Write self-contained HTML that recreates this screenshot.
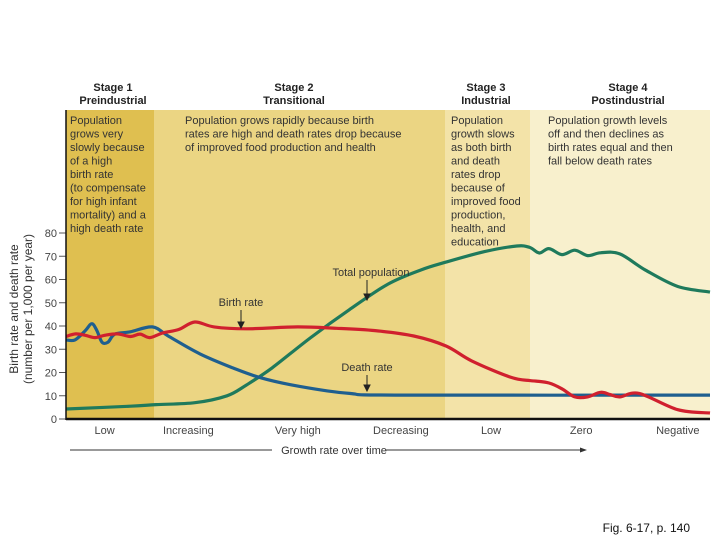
<!DOCTYPE html>
<html><head><meta charset="utf-8"><style>
body{margin:0;background:#fff;}
svg{display:block;font-family:"Liberation Sans",sans-serif;}
</style></head><body>
<svg id="chart" width="720" height="540" viewBox="0 0 720 540">
<rect x="66" y="110" width="88" height="309" fill="#dfbf50"/>
<rect x="154" y="110" width="291" height="309" fill="#ebd583"/>
<rect x="445" y="110" width="85" height="309" fill="#f3e3a8"/>
<rect x="530" y="110" width="180" height="309" fill="#f8f0cd"/>
<g font-weight="bold" font-size="11" fill="#222" text-anchor="middle">
<text x="113" y="91">Stage 1</text><text x="113" y="104">Preindustrial</text>
<text x="294" y="91">Stage 2</text><text x="294" y="104">Transitional</text>
<text x="486" y="91">Stage 3</text><text x="486" y="104">Industrial</text>
<text x="628" y="91">Stage 4</text><text x="628" y="104">Postindustrial</text>
</g>
<g font-size="11" fill="#333">
<text><tspan x="70" y="124">Population</tspan><tspan x="70" y="137.5">grows very</tspan><tspan x="70" y="151">slowly because</tspan><tspan x="70" y="164.5">of a high</tspan><tspan x="70" y="178">birth rate</tspan><tspan x="70" y="191.5">(to compensate</tspan><tspan x="70" y="205">for high infant</tspan><tspan x="70" y="218.5">mortality) and a</tspan><tspan x="70" y="232">high death rate</tspan></text>
<text><tspan x="185" y="124">Population grows rapidly because birth</tspan><tspan x="185" y="137.5">rates are high and death rates drop because</tspan><tspan x="185" y="151">of improved food production and health</tspan></text>
<text><tspan x="451" y="124">Population</tspan><tspan x="451" y="137.5">growth slows</tspan><tspan x="451" y="151">as both birth</tspan><tspan x="451" y="164.5">and death</tspan><tspan x="451" y="178">rates drop</tspan><tspan x="451" y="191.5">because of</tspan><tspan x="451" y="205">improved food</tspan><tspan x="451" y="218.5">production,</tspan><tspan x="451" y="232">health, and</tspan><tspan x="451" y="245.5">education</tspan></text>
<text><tspan x="548" y="124">Population growth levels</tspan><tspan x="548" y="137.5">off and then declines as</tspan><tspan x="548" y="151">birth rates equal and then</tspan><tspan x="548" y="164.5">fall below death rates</tspan></text>
</g>
<g id="ticks" font-size="11" fill="#444"></g>
<text transform="translate(18,309) rotate(-90)" font-size="12" fill="#333" text-anchor="middle">Birth rate and death rate</text>
<text transform="translate(32,309) rotate(-90)" font-size="12" fill="#333" text-anchor="middle">(number per 1,000 per year)</text>
<g id="series"></g>
<line x1="66" y1="110" x2="66" y2="420" stroke="#111" stroke-width="1.5"/>
<line x1="66" y1="419" x2="710" y2="419" stroke="#111" stroke-width="2.5"/>
<g font-size="11" fill="#333" text-anchor="middle">
<text x="241" y="306">Birth rate</text>
<text x="371" y="276">Total population</text>
<text x="367" y="371">Death rate</text>
</g>
<g stroke="#222" stroke-width="1" fill="#222">
<line x1="241" y1="310" x2="241" y2="325"/><path d="M238,322 L241,328 L244,322Z"/>
<line x1="367" y1="280" x2="367" y2="297"/><path d="M364,294 L367,300 L370,294Z"/>
<line x1="367" y1="375" x2="367" y2="388"/><path d="M364,385 L367,391 L370,385Z"/>
</g>
<g font-size="11" fill="#444" text-anchor="middle" id="xlabels"></g>
<line x1="70" y1="450" x2="272" y2="450" stroke="#333" stroke-width="1"/>
<text x="334" y="454" font-size="11" fill="#333" text-anchor="middle">Growth rate over time</text>
<line x1="386" y1="450" x2="582" y2="450" stroke="#333" stroke-width="1"/>
<path d="M580,447.5 L587,450 L580,452.5Z" fill="#333"/>
<text x="690" y="532" font-size="12" fill="#111" text-anchor="end">Fig. 6-17, p. 140</text>
</svg>
<script>
const yTicks = [0,10,20,30,40,50,60,70,80];
const xCategories = ["Low","Increasing","Very high","Decreasing","Low","Zero","Negative"];
const xCategoryPos = [6,19,36,52,66,80,95];
// t: 0..100 across plot width; value in rate units
const birthT = [0,1.5,3,4.5,6,8,10,11.5,13,15,17.5,20,23,28,36,42,48,54,59,63,69,72,73,75,77,79,81,83,84.5,86,89,95,100];
const birthV = [35.5,36.6,36,35,36,36.6,35.5,36.5,35,37,38.5,41.7,39.6,38.8,39.6,39,38,35.7,31.4,25,18,16.5,16.3,15.5,13,9.5,9.5,11.5,10.5,9.5,11,4,2.6];
const deathT = [0,1.4,3,4,4.8,5.6,6.5,7.6,10,13.4,16,20.8,25.9,30.4,36.3,44,52,100];
const deathV = [34,34,38,41,38,33,33,36.5,37.5,39.6,35.5,28,22,17.6,14,11,10.3,10.3];
const popT = [0,10,14,20,25,28,32,38,44,50,55,59,65,70,72,73.5,75,77,79,81,83,86,90,95,100];
const popV = [4.3,5.5,6.2,7,10,14.6,22,35,47,58,64,67.5,72,74.4,73.8,71.4,73.3,70.7,72.6,70.3,71.5,71,64,57,54.6];
const x0=66,x1=710,yBase=419,yPer=2.325;
function xs(t){return x0+(x1-x0)*t/100;}
function ys(v){return yBase-v*yPer;}
const NS="http://www.w3.org/2000/svg";
const tg=document.getElementById('ticks');
yTicks.forEach(v=>{
  const l=document.createElementNS(NS,'line');
  l.setAttribute('x1',59);l.setAttribute('x2',66);l.setAttribute('y1',ys(v));l.setAttribute('y2',ys(v));
  l.setAttribute('stroke','#555');
  
  
  tg.appendChild(l);
  const t=document.createElementNS(NS,'text');
  t.setAttribute('x',57);t.setAttribute('y',ys(v)+4);t.setAttribute('text-anchor','end');
  t.textContent=v;
  
  
  tg.appendChild(t);
});
const xg=document.getElementById('xlabels');
xCategories.forEach((c,i)=>{
  const t=document.createElementNS(NS,'text');
  t.setAttribute('x',xs(xCategoryPos[i]));t.setAttribute('y',434);
  t.textContent=c;
  
  
  xg.appendChild(t);
});
function smooth(T,V){
  const p=T.map((t,i)=>[xs(t),ys(V[i])]);
  let d='M'+p[0][0]+','+p[0][1];
  for(let i=0;i<p.length-1;i++){
    const a=p[i-1]||p[i],b=p[i],c=p[i+1],e=p[i+2]||c;
    const c1=[b[0]+(c[0]-a[0])/6,b[1]+(c[1]-a[1])/6],c2=[c[0]-(e[0]-b[0])/6,c[1]-(e[1]-b[1])/6];
    d+=' C'+c1[0].toFixed(1)+','+c1[1].toFixed(1)+' '+c2[0].toFixed(1)+','+c2[1].toFixed(1)+' '+c[0].toFixed(1)+','+c[1].toFixed(1);
  }
  return d;
}
const sg=document.getElementById('series');
function addLine(T,V,col,name){
  const p=document.createElementNS(NS,'path');
  p.setAttribute('d',smooth(T,V));p.setAttribute('fill','none');p.setAttribute('stroke',col);
  p.setAttribute('stroke-width',3.2);p.setAttribute('stroke-linejoin','round');
  
  
  sg.appendChild(p);
}
addLine(popT,popV,'#1f7a5c','total-population-line');
addLine(deathT,deathV,'#1f5f8f','death-rate-line');
addLine(birthT,birthV,'#d0202e','birth-rate-line');
</script>
</body></html>
